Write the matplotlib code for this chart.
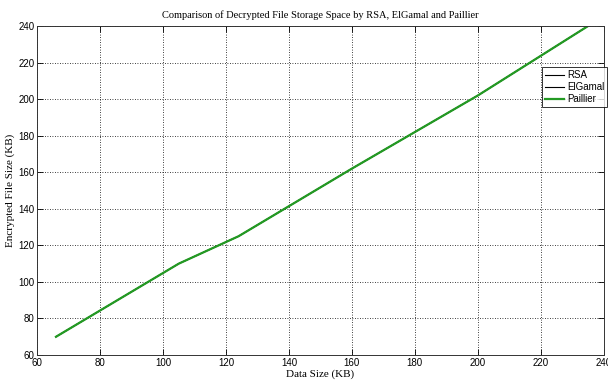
import matplotlib
matplotlib.use("Agg")
import matplotlib.pyplot as plt

# data
data_size = [66, 105, 124, 160, 200, 235]
rsa = [70, 110, 125, 162, 202, 240]
elgamal = [70, 110, 125, 162, 202, 240]
paillier = [70, 110, 125, 162, 202, 240]
x_ticks = list(range(60, 241, 20))
y_ticks = list(range(60, 241, 20))

serif = ['Liberation Serif', 'DejaVu Serif']
narrow = ['Liberation Sans Narrow', 'Liberation Sans', 'DejaVu Sans']

fig = plt.figure(figsize=(6.08, 3.83), dpi=100)
ax = fig.add_axes([0.061, 0.073, 0.932, 0.859])

ax.plot(data_size, rsa, color='black', lw=0.8, label='RSA')
ax.plot(data_size, elgamal, color='black', lw=0.8, label='ElGamal')
ax.plot(data_size, paillier, color='#239a23', lw=1.6, label='Paillier')

ax.set_xlim(60, 240)
ax.set_ylim(60, 240)
ax.set_xticks(x_ticks)
ax.set_yticks(y_ticks)
ax.grid(True, color='black', linestyle=(0, (1, 2)), lw=0.6)
ax.tick_params(direction='in', length=4, width=0.6, top=True, right=True,
               labelsize=7, pad=2)
for lab in ax.get_xticklabels() + ax.get_yticklabels():
    lab.set_family(narrow)
for s in ax.spines.values():
    s.set_linewidth(0.7)
    s.set_color('#333333')

ax.set_title('Comparison of Decrypted File Storage Space by RSA, ElGamal and Paillier',
             fontsize=7.5, family=serif, pad=6)
ax.set_xlabel('Data Size (KB)', fontsize=8, family=serif, labelpad=1)
ax.set_ylabel('Encrypted File Size (KB)', fontsize=8, family=serif, labelpad=2)

leg = ax.legend(loc='upper right', bbox_to_anchor=(1.006, 0.875),
                prop={'family': narrow, 'size': 7}, frameon=True, fancybox=False,
                handlelength=2.0, borderpad=0.3, labelspacing=0.2, handletextpad=0.3,
                borderaxespad=0)
leg.get_frame().set_edgecolor('black')
leg.get_frame().set_linewidth(0.7)

fig.savefig('out.png', dpi=100)
